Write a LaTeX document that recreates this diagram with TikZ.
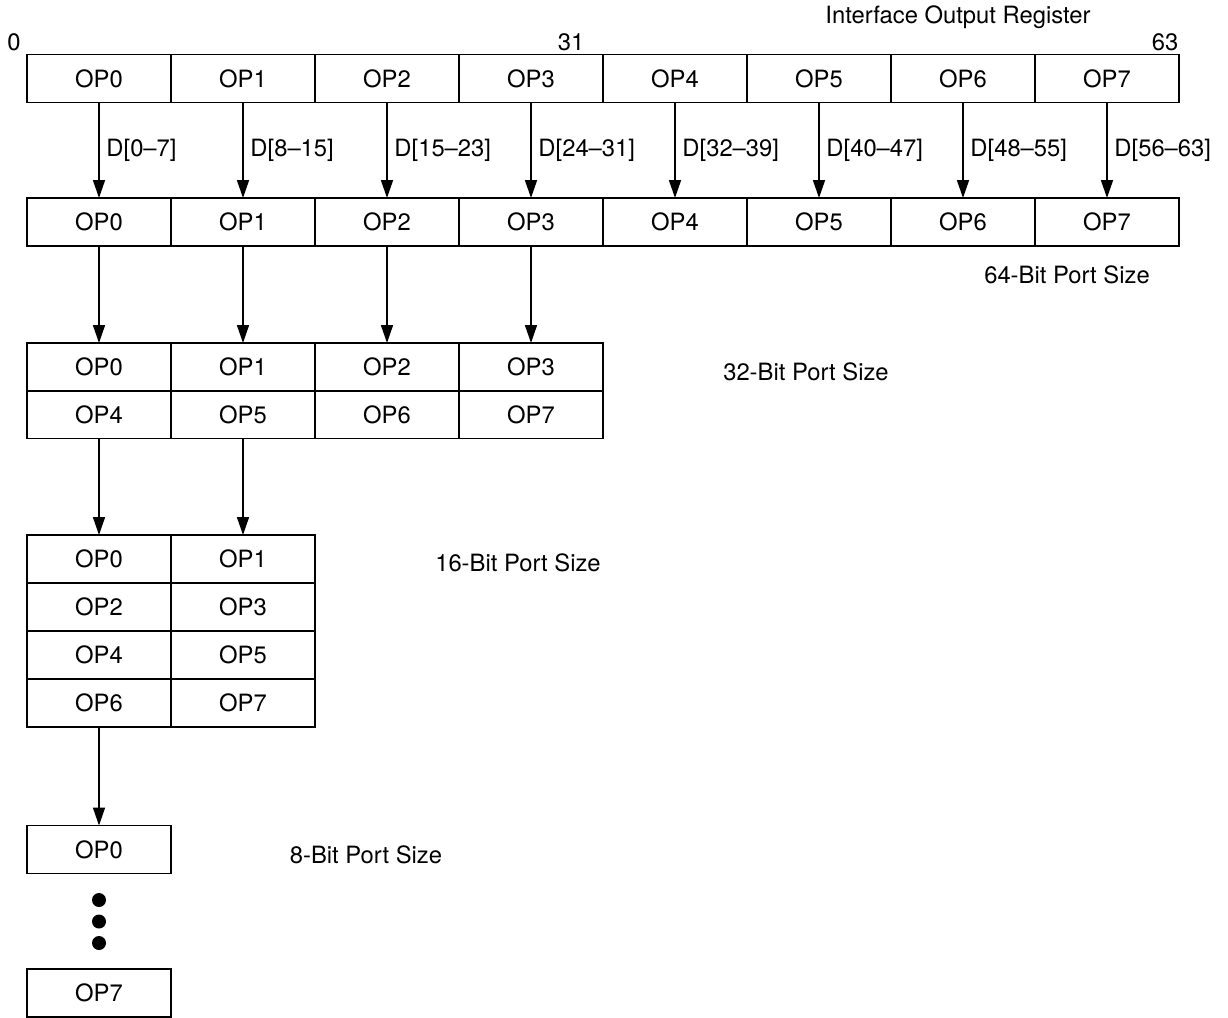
\documentclass[tikz,border=0pt]{standalone}
\usepackage{fontspec}
\setmainfont{TeX Gyre Heros}
\usetikzlibrary{arrows.meta}
\tikzset{
  cell/.style={draw, line width=0.8pt, minimum width=72pt, minimum height=24pt, inner sep=0pt, outer sep=0pt},
  feed/.style={line width=0.8pt, -{Triangle[length=9pt,width=6pt]}},
}

\begin{document}
\begin{tikzpicture}[x=0.5pt,y=-0.5pt,font=\fontsize{11.9}{13}\selectfont]
  \useasboundingbox (0,0) rectangle (1228,1018);
  % interface output register
  \foreach \i in {0,...,7}{
    \node[cell] (reg\i) at ({99+144*\i},78.5) {OP\i};}
  \node (title) at (958,17) {Interface Output Register};
  \node (lsb) at (14,42) {0};
  \node (mid) at (571,42) {31};
  \node (msb) at (1165,42) {63};
  % 64-bit port
  \foreach \i in {0,...,7}{
    \node[cell] (p64\i) at ({99+144*\i},222) {OP\i};}
  \foreach \i/\bits in {0/0--7,1/8--15,2/15--23,3/24--31,4/32--39,5/40--47,6/48--55,7/56--63}{
    \draw[feed] (reg\i) -- node[right]{D[\bits]} (p64\i);}
  \node (l64) at (1067,275) {64-Bit Port Size};
  % 32-bit port
  \foreach \i in {0,...,3}{
    \pgfmathtruncatemacro\j{\i+4}
    \node[cell] (p32a\i) at ({99+144*\i},367) {OP\i};
    \node[cell] (p32b\i) at ({99+144*\i},414.5) {OP\j};
    \draw[feed] (p64\i) -- (p32a\i);}
  \node (l32) at (806,372) {32-Bit Port Size};
  % 16-bit port
  \foreach \r in {0,...,3}{
    \foreach \c in {0,1}{
      \pgfmathtruncatemacro\n{2*\r+\c}
      \node[cell] (p16\n) at ({99+144*\c},{559+48*\r}) {OP\n};}}
  \draw[feed] (p32b0) -- (p160);
  \draw[feed] (p32b1) -- (p161);
  \node (l16) at (518,563) {16-Bit Port Size};
  % 8-bit port
  \node[cell] (p8a) at (99,849.5) {OP0};
  \node[cell] (p8b) at (99,993) {OP7};
  \draw[feed] (p166) -- (p8a);
  \foreach \y in {900,921.5,943}{
    \fill (99,\y) circle[radius=3.5pt];}
  \node (l8) at (366,855) {8-Bit Port Size};
\end{tikzpicture}
\end{document}
